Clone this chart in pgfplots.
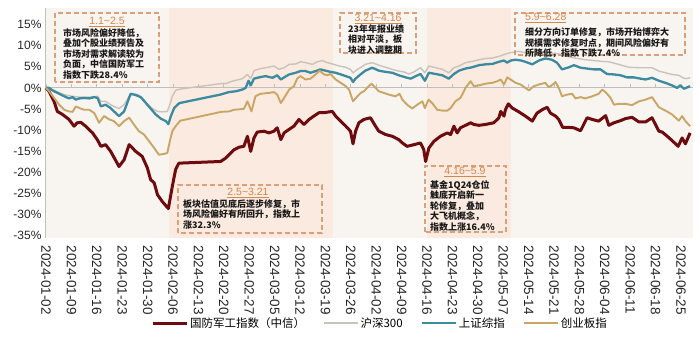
\documentclass[border=0pt]{standalone}
\usepackage{fontspec}
\setmainfont{Liberation Sans}
\newfontfamily\cjk{Noto Sans CJK SC}
\usepackage{pgfplots}
\usepackage{pgfplotstable}
\pgfplotsset{compat=1.18}

\definecolor{cred}{HTML}{6E0B0E}
\definecolor{cgray}{HTML}{C9C3BC}
\definecolor{cblue}{HTML}{3B8AA0}
\definecolor{cgold}{HTML}{C9A566}
\definecolor{bglight}{HTML}{F8F4EF}
\definecolor{bgpeach}{HTML}{FBEADF}
\definecolor{boxc}{HTML}{D9A07A}
\definecolor{titc}{HTML}{D4874A}
\definecolor{axc}{HTML}{BFBFBF}

% x = calendar days since 2024-01-02, y = cumulative change in %
\pgfplotstableread{
x y
0 0
0.8 -0.8
2.2 -3.2
3.1 -5.6
4.5 -6.3
6.3 -7.5
7.7 -9.1
8.6 -8.3
9.6 -8.2
10.9 -9.1
12.8 -10.7
14.1 -12.3
15.1 -13.9
16.4 -13.5
17.8 -15.1
20.1 -18.7
21.5 -17.1
22.9 -13.5
24.7 -15.1
26.5 -16.3
27.9 -19.0
28.8 -21.8
29.8 -22.6
30.7 -25.4
32.0 -27.0
33.7 -28.7
34.8 -23.4
35.7 -19.4
36.6 -17.9
48.1 -17.5
49.5 -16.7
50.9 -15.5
51.8 -14.7
53.2 -14.1
54.5 -13.9
55.5 -11.5
56.4 -15.1
57.3 -11.9
58.2 -10.5
60.1 -10.3
61.4 -10.7
62.8 -10.3
63.7 -9.5
64.7 -12.3
65.6 -10.7
66.9 -9.9
68.3 -9.1
69.7 -7.5
71.1 -8.7
72.5 -7.5
73.8 -6.7
75.2 -5.9
76.6 -5.9
78.0 -5.7
78.9 -5.6
79.8 -6.7
81.2 -7.9
82.6 -9.1
83.9 -10.3
84.6 -13.3
85.3 -10.3
86.2 -8.3
87.6 -7.5
89.4 -7.1
90.8 -9.1
91.7 -10.3
93.6 -11.1
95.4 -11.5
97.2 -12.3
98.2 -13.1
99.5 -13.9
101.4 -13.5
103.2 -13.1
104.1 -14.7
104.6 -17.5
105.5 -14.3
106.9 -12.7
108.7 -11.5
110.6 -10.7
111.5 -11.1
112.4 -9.1
113.3 -10.7
114.2 -9.5
115.6 -8.9
117.0 -8.3
117.9 -8.7
119.3 -8.9
121.1 -8.7
123.4 -8.3
124.8 -7.1
125.3 -5.6
126.2 -6.7
126.6 -5.2
127.4 -3.8
128.5 -4.8
130.3 -5.7
132.1 -6.7
134.0 -7.9
135.3 -6.0
136.7 -5.2
138.1 -4.6
139.0 -6.0
140.4 -6.7
141.3 -7.5
142.4 -9.4
144.1 -9.4
145.5 -9.5
147.3 -10.2
149.1 -7.1
150.5 -7.5
152.3 -7.9
154.2 -6.6
155.1 -8.9
156.5 -8.3
158.3 -7.8
159.7 -7.3
161.5 -7.0
163.4 -8.1
165.2 -8.1
167.0 -7.1
168.9 -10.3
169.8 -10.5
171.2 -11.5
172.5 -12.5
174.2 -13.9
175.3 -11.9
176.2 -13.3
177.5 -10.7
}\redtab

\pgfplotstableread{
x y
0 0
2.2 -0.6
5.0 -1.6
7.3 -2.0
9.2 -2.2
11.9 -2.2
14.2 -2.0
15.1 -3.2
16.4 -3.2
17.8 -4.0
19.2 -4.6
20.1 -4.9
21.5 -4.0
22.9 -2.0
23.8 -1.4
25.2 -1.6
26.5 -2.4
27.9 -3.8
29.3 -4.9
30.7 -5.6
32.0 -5.7
33.4 -5.6
34.1 -4.0
34.8 -2.0
35.7 -0.6
36.8 -0.3
48.0 1.0
49.5 1.0
51.3 1.6
54.1 2.2
55.5 3.2
56.4 2.2
57.3 4.1
59.1 4.6
60.5 4.8
62.8 5.2
64.2 4.4
65.6 4.8
67.0 5.6
68.8 5.7
70.1 6.2
71.5 6.0
73.4 5.6
74.7 6.2
76.1 6.5
77.5 6.0
78.9 5.7
80.8 5.2
82.6 4.9
83.9 4.4
84.6 3.6
85.8 4.4
87.0 5.0
88.0 5.6
89.9 6.0
91.7 5.4
93.6 4.9
95.4 4.4
97.2 4.0
98.6 3.8
100.0 3.3
101.4 3.8
103.2 4.8
104.4 3.6
105.5 5.2
107.4 4.8
109.2 4.4
111.0 3.6
112.4 4.8
113.8 5.2
115.6 6.0
117.4 6.3
119.3 6.7
121.1 7.0
123.0 7.1
124.8 7.5
126.2 7.9
127.5 8.3
130.3 8.7
133.0 8.2
135.0 8.5
138.6 8.3
140.5 8.2
142.2 7.9
145.0 7.2
148.6 6.7
151.0 6.5
153.3 6.3
155.1 6.2
157.8 5.6
160.6 4.9
163.4 4.8
167.0 4.8
168.9 4.0
170.7 3.6
172.5 3.2
174.4 3.0
175.3 2.5
176.2 2.2
177.5 2.4
}\graytab

\pgfplotstableread{
x y
0 0
0.8 0
2.2 -0.8
3.6 -1.4
5.0 -2.0
6.3 -2.5
7.3 -2.2
8.2 -2.8
9.2 -2.5
10.5 -2.4
11.9 -2.5
13.3 -2.2
14.2 -2.4
15.1 -4.4
16.4 -4.0
17.8 -4.8
19.2 -6.0
20.1 -6.7
21.5 -5.6
22.7 -2.8
23.3 -1.4
24.7 -1.7
26.1 -2.2
27.5 -3.6
28.8 -4.9
30.2 -6.3
31.6 -7.3
33.0 -7.9
33.7 -8.6
34.4 -6.7
35.3 -4.8
36.2 -4.0
36.8 -3.6
48.0 -1.6
50.4 -1.0
52.3 -0.8
54.1 -0.4
55.0 0
55.8 1.7
56.4 0.6
57.3 2.2
58.7 2.5
60.5 2.8
62.4 2.4
63.7 3.0
64.7 2.0
65.6 2.5
67.0 3.2
68.8 3.6
70.1 4.0
71.5 4.0
72.9 3.6
74.3 4.0
75.6 4.4
77.0 4.1
78.4 3.8
79.8 3.6
81.2 3.2
82.6 2.8
83.9 2.4
84.6 1.4
85.3 2.2
86.5 3.1
88.0 4.1
89.9 4.8
91.7 4.1
93.6 3.8
95.4 3.6
97.2 3.0
99.1 2.5
100.5 2.2
101.9 2.8
103.2 3.3
104.4 1.7
105.5 3.6
107.4 3.3
109.2 3.0
111.0 2.2
112.4 3.3
113.8 4.1
115.6 4.6
117.4 4.9
119.3 5.4
121.1 5.6
123.0 5.7
124.8 6.2
126.2 6.5
127.1 6.0
128.0 6.5
129.4 6.7
131.0 6.5
132.1 6.2
134.0 5.6
135.8 6.5
137.6 7.0
139.4 6.7
140.8 6.0
142.2 4.4
144.1 4.9
145.5 5.4
147.3 4.8
149.1 4.6
151.0 4.4
152.8 4.4
154.6 3.3
156.5 3.2
158.3 3.0
160.1 2.5
162.0 2.5
163.8 2.2
165.2 2.0
167.0 2.4
168.9 1.7
170.7 1.2
172.5 0.6
173.9 0
174.8 0.6
175.8 -0.2
177.5 0.4
}\bluetab

\pgfplotstableread{
x y
0 0
0.8 -0.8
2.2 -2.4
3.6 -4.0
5.0 -5.2
6.3 -5.6
7.3 -5.7
8.2 -4.4
9.2 -4.8
10.5 -5.2
11.9 -5.2
13.3 -6.0
14.6 -8.3
16.0 -6.7
17.4 -7.5
18.7 -7.9
20.1 -9.1
21.5 -7.9
22.9 -7.1
24.2 -8.7
25.6 -10.3
27.0 -11.1
28.4 -12.7
29.8 -14.3
31.1 -15.9
32.5 -15.7
33.4 -15.5
34.1 -12.7
34.8 -10.3
35.7 -9.1
37.0 -7.8
48.3 -5.7
50.4 -5.6
51.8 -5.2
54.5 -5.0
55.5 -3.2
56.6 -5.6
57.7 -2.0
59.1 -1.4
61.4 -1.2
62.8 -1.0
63.7 -1.6
64.7 -3.6
65.6 -2.4
67.0 -0.4
68.3 0.4
69.2 2.2
70.1 2.8
71.5 2.0
72.9 2.2
74.3 3.2
75.4 4.1
76.6 3.2
77.5 3.0
78.4 3.3
79.8 2.0
81.2 1.2
82.6 0.4
83.5 -0.4
84.6 -3.2
85.8 -2.0
86.7 -1.2
87.6 -0.8
88.9 0.4
89.7 1.0
90.8 0
91.7 -0.8
93.1 -1.2
94.5 -1.6
96.3 -2.0
97.4 -1.4
98.2 -2.8
99.5 -4.0
100.9 -4.9
102.3 -4.0
103.7 -3.2
104.4 -4.8
105.4 -2.8
106.4 -3.6
107.8 -5.2
109.2 -5.4
110.6 -5.4
111.5 -4.8
112.8 -3.2
114.2 -2.4
115.6 0
117.0 1.6
117.9 0.4
119.3 0.6
121.1 1.0
123.0 1.2
124.4 1.6
125.3 2.0
126.2 0.8
127.1 2.5
128.0 2.0
129.4 1.2
130.8 0.8
132.1 0
133.1 -0.6
134.4 0.4
135.8 0.8
137.6 1.2
138.5 0.2
139.4 0.6
140.4 1.4
141.3 0
142.2 -2.0
143.6 -1.6
145.0 -1.4
145.9 -2.5
147.3 -2.2
148.6 -2.5
150.5 -2.0
152.3 -1.4
153.3 -0.4
154.4 -1.2
155.6 -2.4
156.5 -4.0
157.8 -3.8
159.7 -3.8
161.5 -4.1
163.4 -3.2
165.2 -2.8
167.0 -2.2
168.9 -4.6
170.7 -5.4
172.5 -6.3
174.4 -7.8
175.3 -6.7
176.2 -7.9
177.5 -9.1
}\goldtab

\begin{document}
\begin{tikzpicture}
\path[use as bounding box] (0,0) rectangle (700pt,343pt);

% background bands and zero line
\begin{axis}[at={(45pt,105pt)}, anchor=south west, scale only axis,
  width=648pt, height=230pt,
  xmin=-0.3, xmax=178.3, ymin=-35.7, ymax=19,
  axis on top,
  axis x line=middle, axis y line=none,
  x axis line style={draw=axc, line width=0.8pt, -},
  xtick={0,7,...,175}, xticklabels={},
  xtick style={draw=axc, line width=0.8pt},
  major tick length=4pt, tick align=inside,
  ytick=\empty]
  \fill[bglight] (axis cs:-0.3,-35.7) rectangle (axis cs:34,19);
  \fill[bgpeach] (axis cs:34,-35.7) rectangle (axis cs:79,19);
  \fill[bglight] (axis cs:79,-35.7) rectangle (axis cs:105,19);
  \fill[bgpeach] (axis cs:105,-35.7) rectangle (axis cs:128,19);
  \fill[bglight] (axis cs:128,-35.7) rectangle (axis cs:178.3,19);
\end{axis}

% data
\begin{axis}[at={(45pt,105pt)}, anchor=south west, scale only axis,
  width=648pt, height=230pt,
  xmin=-0.3, xmax=178.3, ymin=-35.7, ymax=19,
  axis x line*=bottom, axis y line*=left,
  x axis line style={draw=none},
  y axis line style={draw=axc, line width=0.8pt},
  xtick={0,7,...,175},
  xticklabels={2024-01-02,2024-01-09,2024-01-16,2024-01-23,2024-01-30,2024-02-06,2024-02-13,2024-02-20,2024-02-27,2024-03-05,2024-03-12,2024-03-19,2024-03-26,2024-04-02,2024-04-09,2024-04-16,2024-04-23,2024-04-30,2024-05-07,2024-05-14,2024-05-21,2024-05-28,2024-06-04,2024-06-11,2024-06-18,2024-06-25},
  xtick style={draw=none},
  xticklabel shift=4pt,
  xticklabel style={rotate=-90, anchor=west, font=\fontsize{13.5}{13.5}\selectfont, text=black!85},
  ytick={-35,-30,...,15},
  yticklabels={-35\%,-30\%,-25\%,-20\%,-15\%,-10\%,-5\%,0\%,5\%,10\%,15\%},
  ytick style={draw=none},
  yticklabel style={font=\fontsize{12}{12}\selectfont, text=black!85},
  legend columns=4,
  legend style={at={(0.517,-0.37)}, anchor=center, draw=none, fill=none,
    font=\fontsize{11.5}{13}\selectfont\cjk,
    /tikz/every even column/.append style={column sep=16pt}},
  legend image code/.code={\draw[#1] (0pt,0pt) -- (34pt,0pt);},
  every axis plot/.append style={line join=round}]
  \addplot[cred, line width=3pt] table[x=x,y=y] {\redtab};
  \addlegendentry{国防军工指数（中信）}
  \addplot[cgray, line width=1.4pt] table[x=x,y=y] {\graytab};
  \addlegendentry{沪深300}
  \addplot[cblue, line width=2.3pt] table[x=x,y=y] {\bluetab};
  \addlegendentry{上证综指}
  \addplot[cgold, line width=1.9pt] table[x=x,y=y] {\goldtab};
  \addlegendentry{创业板指}
\end{axis}

% annotation boxes
\tikzset{abox/.style={draw=boxc, line width=1.1pt, dash pattern=on 5pt off 3pt},
  atit/.style={text=titc, font=\fontsize{10.5}{11}\selectfont, inner sep=0pt},
  atxt/.style={anchor=north west, align=left, inner sep=0pt, text=black!90,
    font=\fontsize{9}{10.5}\selectfont\cjk\bfseries}}

\draw[abox] (55pt,261pt) rectangle (159pt,330pt);
\node[atit] at (107pt,321pt) {\underline{1.1\textasciitilde2.5}};
\node[atxt] at (63pt,315pt) {市场风险偏好降低，\\叠加个股业绩预告及\\市场对需求解读较为\\负面，中信国防军工\\指数下跌28.4\%};

\draw[abox] (178pt,110pt) rectangle (322pt,158pt);
\node[atit] at (248pt,150pt) {\underline{2.5\textasciitilde3.21}};
\node[atxt] at (183pt,144pt) {板块估值见底后逐步修复，市\\场风险偏好有所回升，指数上\\涨32.3\%};

\draw[abox] (340pt,290pt) rectangle (416pt,330pt);
\node[atit] at (378pt,324pt) {\underline{3.21\textasciitilde4.16}};
\node[atxt] at (348pt,318.5pt) {23年年报业绩\\相对平淡，板\\块进入调整期};

\draw[abox] (425pt,111pt) rectangle (506pt,177pt);
\node[atit] at (465pt,171pt) {\underline{4.16\textasciitilde5.9}};
\node[atxt] at (430pt,163pt) {基金1Q24仓位\\触底开启新一\\轮修复，叠加\\大飞机概念，\\指数上涨16.4\%};

\draw[abox] (515pt,288pt) rectangle (685pt,330pt);
\node[atit, anchor=west] at (525pt,325pt) {\underline{5.9\textasciitilde6.28}};
\node[atxt] at (525pt,315.5pt) {细分方向订单修复，市场开始博弈大\\规模需求修复时点，期间风险偏好有\\所降低，指数下跌7.4\%};
\end{tikzpicture}
\end{document}
